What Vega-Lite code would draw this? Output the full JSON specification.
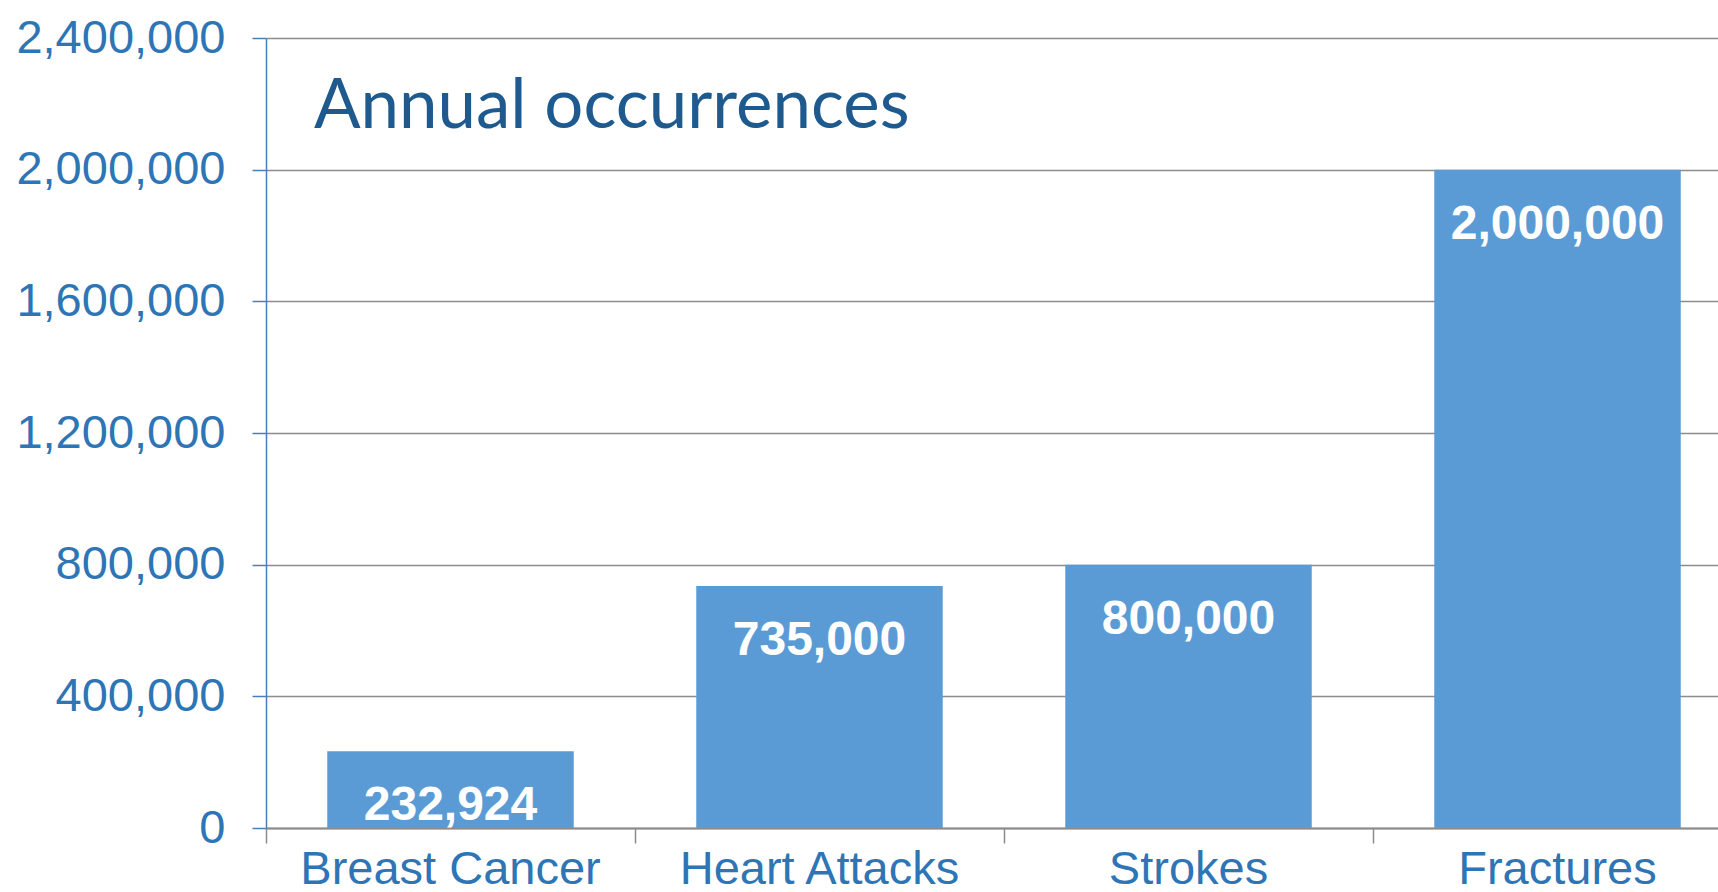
{
  "$schema": "https://vega.github.io/schema/vega-lite/v6.json",
  "autosize": {"type": "none"},
  "width": 1452,
  "height": 790,
  "padding": {"left": 266, "top": 38, "right": 0, "bottom": 64},
  "background": "white",
  "datasets": {
    "bars": [
      {"category": "Breast Cancer", "value": 232924},
      {"category": "Heart Attacks", "value": 735000},
      {"category": "Strokes", "value": 800000},
      {"category": "Fractures", "value": 2000000}
    ],
    "heading": [
      {"category": "Breast Cancer", "value": 2127000, "label": "Annual occurrences"}
    ]
  },
  "config": {
    "view": {"stroke": null},
    "axis": {"labelFont": "Liberation Sans"}
  },
  "encoding": {
    "x": {
      "field": "category",
      "type": "nominal",
      "sort": ["Breast Cancer", "Heart Attacks", "Strokes", "Fractures"],
      "scale": {"range": [0, 1476], "paddingInner": 0, "paddingOuter": 0},
      "axis": {
        "title": null,
        "labelAngle": 0,
        "bandPosition": 0,
        "labelLimit": 0,
        "labelFontSize": 47,
        "labelColor": "#2E75B6",
        "labelPadding": 3,
        "labelBaseline": "top",
        "tickSize": 15,
        "tickColor": "#8C8C8C",
        "tickWidth": 1.5,
        "domainColor": "#8C8C8C",
        "domainWidth": 2,
        "grid": false
      }
    },
    "y": {
      "field": "value",
      "type": "quantitative",
      "scale": {"domain": [0, 2400000], "nice": false},
      "axis": {
        "title": null,
        "values": [0, 400000, 800000, 1200000, 1600000, 2000000, 2400000],
        "format": ",d",
        "labelLimit": 0,
        "labelFontSize": 47,
        "labelColor": "#2E75B6",
        "labelPadding": 27,
        "tickSize": 14,
        "tickColor": "#4A7EBB",
        "tickWidth": 1.5,
        "domainColor": "#4A7EBB",
        "domainWidth": 1.5,
        "grid": true,
        "gridColor": "#8C8C8C",
        "gridWidth": 1.5
      }
    }
  },
  "layer": [
    {
      "data": {"name": "bars"},
      "mark": {"type": "bar", "color": "#5B9BD5", "width": {"band": 0.668}}
    },
    {
      "data": {"name": "bars"},
      "mark": {
        "type": "text",
        "color": "white",
        "font": "Liberation Sans",
        "fontSize": 48,
        "fontWeight": "bold",
        "baseline": "middle",
        "align": "center",
        "dy": 55
      },
      "encoding": {
        "text": {"field": "value", "type": "quantitative", "format": ",d"}
      }
    },
    {
      "data": {"name": "heading"},
      "mark": {
        "type": "text",
        "color": "#1F5A8E",
        "font": "Lato",
        "fontSize": 69,
        "align": "left",
        "baseline": "alphabetic",
        "dx": 48
      },
      "encoding": {
        "x": {"field": "category", "type": "nominal", "bandPosition": 0},
        "text": {"field": "label", "type": "nominal"}
      }
    }
  ]
}
